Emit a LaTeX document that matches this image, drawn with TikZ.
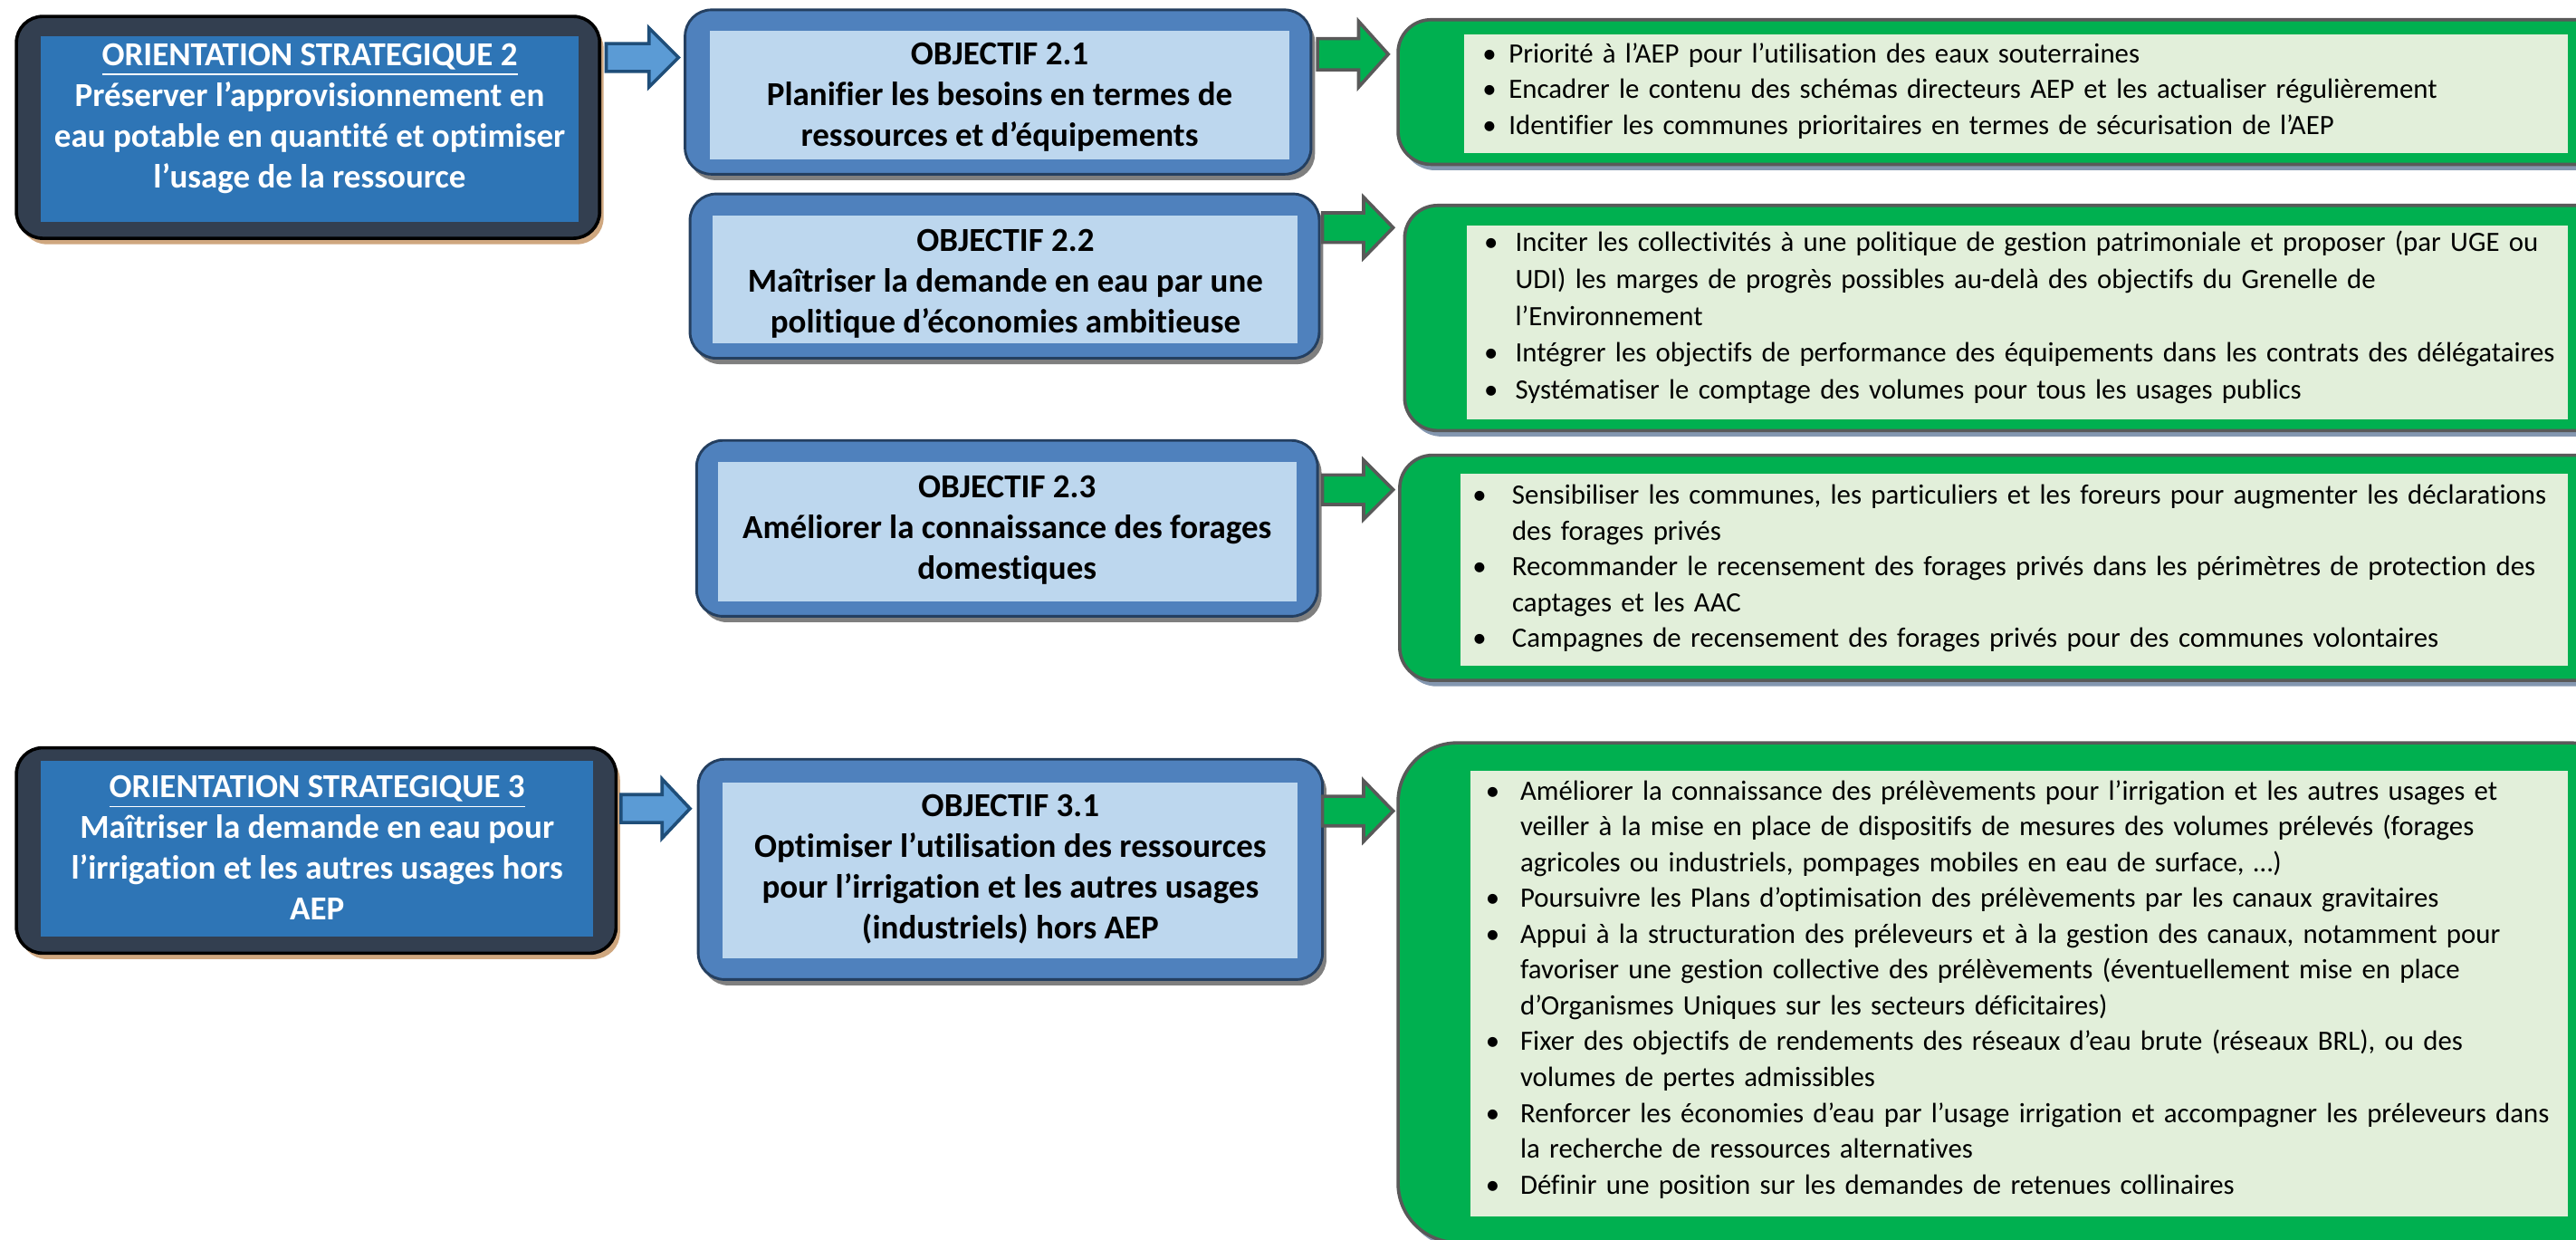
\documentclass[tikz,border=0pt]{standalone}
\usepackage{fontspec}
\setmainfont{Carlito}[Ligatures=NoCommon]
\usetikzlibrary{shadows}
\definecolor{orientout}{HTML}{333F50}
\definecolor{orientin}{HTML}{2E75B6}
\definecolor{orientsh}{HTML}{CFA77F}
\definecolor{objout}{HTML}{4F81BD}
\definecolor{objin}{HTML}{BDD7EE}
\definecolor{objline}{HTML}{243F60}
\definecolor{objsh}{HTML}{7F7F7F}
\definecolor{grn}{HTML}{00B050}
\definecolor{grnin}{HTML}{E2EFDA}
\definecolor{grnline}{HTML}{595959}
\definecolor{grnsh}{HTML}{8497B0}
\definecolor{arrblue}{HTML}{5B9BD5}
\definecolor{arrblueline}{HTML}{1F4E79}
\newlength\bulind
\newcommand\bitem[1]{\par\rightskip=0pt plus 1fil\parfillskip=0pt plus 1fil\hangindent=\bulind\hangafter=1\noindent\rule{0pt}{7pt}\makebox[\bulind][l]{\textbullet}#1\par}
\newcommand\nl{\hfil\break}
\newcommand\mybox[6]{%
  \node[#2, minimum width={(#5-#3)*0.5pt}, minimum height={(#6-#4)*0.5pt}] (#1) at ({(#3+#5)/2},{(#4+#6)/2}) {};}
\newcommand\blkarrow[7]{%
  \draw[#1] (#2,#5-#6) -- (#3,#5-#6) -- (#3,#5-#7) -- (#4,#5) -- (#3,#5+#7) -- (#3,#5+#6) -- (#2,#5+#6) -- cycle;}
\tikzset{
  allbox/.style={rectangle, inner sep=0pt, outer sep=0pt},
  orientbox/.style={allbox, rounded corners=8pt, fill=orientout, draw=black, line width=1pt,
     drop shadow={shadow xshift=1.2pt, shadow yshift=-1.8pt, fill=orientsh, opacity=1}},
  orientinner/.style={allbox, fill=orientin},
  objbox/.style={allbox, rounded corners=8pt, fill=objout, draw=objline, line width=0.8pt,
     drop shadow={shadow xshift=1.2pt, shadow yshift=-1.8pt, fill=objsh, opacity=1}},
  objinner/.style={allbox, fill=objin},
  grnbox/.style={allbox, rounded corners=10pt, fill=grn, draw=grnline, line width=1pt,
     drop shadow={shadow xshift=1.2pt, shadow yshift=-1.8pt, fill=grnsh, opacity=1}},
  grnbigbox/.style={grnbox, rounded corners=18pt},
  grninner/.style={allbox, fill=grnin},
  titletxt/.style={inner sep=0pt, align=center, font=\bfseries\fontsize{10.2}{12.4}\selectfont},
  listtxt/.style={inner sep=0pt, anchor=north west, text width=400pt, font=\fontsize{8.5}{10.9}\selectfont},
  bluearrow/.style={fill=arrblue, draw=arrblueline, line width=1pt, line join=miter},
  greenarrow/.style={fill=grn, draw=grnline, line width=1pt, line join=miter},
}
\begin{document}
\begin{tikzpicture}[x=0.5pt, y=-0.5pt]
\clip (0,0) rectangle (1568,754.5);
\fill[white] (0,0) rectangle (1568,754.5);
% Orientation 2
\mybox{o2}{orientbox}{10}{10}{365}{145}
\mybox{o2in}{orientinner}{25}{22}{352}{135}
\node[titletxt, text=white] (o2t) at (188.5,72) {\underline{ORIENTATION STRATEGIQUE 2}\\Préserver l’approvisionnement en\\eau potable en quantité et optimiser\\l’usage de la ressource};
% Orientation 3
\mybox{o3}{orientbox}{10}{455}{375}{580}
\mybox{o3in}{orientinner}{25}{463}{361}{570}
\node[titletxt, text=white] (o3t) at (193,516) {\underline{ORIENTATION STRATEGIQUE 3}\\Maîtriser la demande en eau pour\\l’irrigation et les autres usages hors\\AEP};
% Objectives
\mybox{ob1}{objbox}{417}{6}{798}{106}
\mybox{ob1in}{objinner}{432}{19}{785}{97}
\node[titletxt] (ob1t) at (608.5,59) {OBJECTIF 2.1\\Planifier les besoins en termes de\\ressources et d’équipements};
\mybox{ob2}{objbox}{420}{118}{803}{218}
\mybox{ob2in}{objinner}{434}{131}{790}{209}
\node[titletxt] (ob2t) at (612,172.5) {OBJECTIF 2.2\\Maîtriser la demande en eau par une\\politique d’économies ambitieuse};
\mybox{ob3}{objbox}{424}{268}{802}{375}
\mybox{ob3in}{objinner}{437}{281}{789}{366}
\node[titletxt] (ob3t) at (613,322.5) {OBJECTIF 2.3\\Améliorer la connaissance des forages\\domestiques};
\mybox{ob4}{objbox}{425}{462}{805}{596}
\mybox{ob4in}{objinner}{440}{476}{790}{583}
\node[titletxt] (ob4t) at (615,529) {OBJECTIF 3.1\\Optimiser l’utilisation des ressources\\pour l’irrigation et les autres usages\\(industriels) hors AEP};
% Green boxes
\mybox{g1}{grnbox}{851}{12}{1600}{100}
\mybox{g1in}{grninner}{891}{21}{1563}{93}
\node[listtxt] (g1t) at (902,16) {\setlength\bulind{8pt}%
\bitem{Priorité à l’AEP pour l’utilisation des eaux souterraines}
\bitem{Encadrer le contenu des schémas directeurs AEP et les actualiser régulièrement}
\bitem{Identifier les communes prioritaires en termes de sécurisation de l’AEP}};
\mybox{g2}{grnbox}{855}{125}{1600}{262}
\mybox{g2in}{grninner}{893}{137}{1563}{255}
\node[listtxt, font=\fontsize{8.5}{11.25}\selectfont] (g2t) at (903,130) {\setlength\bulind{9.5pt}%
\bitem{Inciter les collectivités à une politique de gestion patrimoniale et proposer (par UGE ou\nl UDI) les marges de progrès possibles au-delà des objectifs du Grenelle de\nl l’Environnement}
\bitem{Intégrer les objectifs de performance des équipements dans les contrats des délégataires}
\bitem{Systématiser le comptage des volumes pour tous les usages publics}};
\mybox{g3}{grnbox}{852}{277}{1600}{414}
\mybox{g3in}{grninner}{889}{288}{1563}{405}
\node[listtxt] (g3t) at (896,284.5) {\setlength\bulind{12pt}%
\bitem{Sensibiliser les communes, les particuliers et les foreurs pour augmenter les déclarations\nl des forages privés}
\bitem{Recommander le recensement des forages privés dans les périmètres de protection des\nl captages et les AAC}
\bitem{Campagnes de recensement des forages privés pour des communes volontaires}};
\mybox{g4}{grnbigbox}{851}{452}{1600}{756}
\mybox{g4in}{grninner}{895}{469}{1563}{740}
\node[listtxt] (g4t) at (904,464.5) {\setlength\bulind{10.5pt}%
\bitem{Améliorer la connaissance des prélèvements pour l’irrigation et les autres usages et\nl veiller à la mise en place de dispositifs de mesures des volumes prélevés (forages\nl agricoles ou industriels, pompages mobiles en eau de surface, …)}
\bitem{Poursuivre les Plans d’optimisation des prélèvements par les canaux gravitaires}
\bitem{Appui à la structuration des préleveurs et à la gestion des canaux, notamment pour\nl favoriser une gestion collective des prélèvements (éventuellement mise en place\nl d’Organismes Uniques sur les secteurs déficitaires)}
\bitem{Fixer des objectifs de rendements des réseaux d’eau brute (réseaux BRL), ou des\nl volumes de pertes admissibles}
\bitem{Renforcer les économies d’eau par l’usage irrigation et accompagner les préleveurs dans\nl la recherche de ressources alternatives}
\bitem{Définir une position sur les demandes de retenues collinaires}};
% Arrows
\blkarrow{bluearrow}{369}{395}{413}{35}{8.5}{18}
\blkarrow{bluearrow}{378}{403}{420}{492}{8.5}{18}
\blkarrow{greenarrow}{802}{827}{845}{33}{9.5}{20}
\blkarrow{greenarrow}{805}{830}{848}{138.5}{9}{18.5}
\blkarrow{greenarrow}{805}{830}{848}{298}{9}{18}
\blkarrow{greenarrow}{805}{830}{848}{493.5}{9}{18.5}
\end{tikzpicture}
\end{document}
